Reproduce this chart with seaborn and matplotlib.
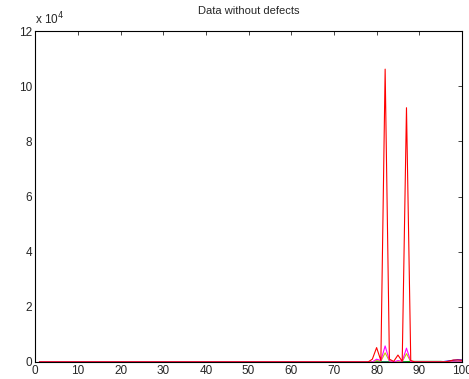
import numpy as np
import matplotlib
matplotlib.use("Agg")
import matplotlib.pyplot as plt
import seaborn as sns

sns.set_style("white")
plt.rcParams['font.family'] = ['Liberation Sans', 'DejaVu Sans']

x = np.arange(1, 101)

# values in units of 1e4, mostly zero until ~x=78
tail_x = [78, 79, 80, 81, 82, 83, 84, 85, 86, 87, 88, 89, 90, 91, 92, 93, 94, 95, 96, 97, 98, 99, 100]
red_tail = [0.0, 0.1, 0.52, 0.05, 10.62, 0.1, 0.02, 0.25, 0.02, 9.22, 0.05, 0.0, 0.0, 0.0, 0.0, 0.0, 0.0, 0.0, 0.0, 0.03, 0.07, 0.07, 0.06]
magenta_tail = [0.0, 0.0, 0.1, 0.05, 0.58, 0.05, 0.0, 0.05, 0.02, 0.5, 0.02, 0.0, 0.0, 0.0, 0.0, 0.0, 0.0, 0.0, 0.0, 0.0, 0.0, 0.0, 0.0]
yellow_tail = [0.0, 0.0, 0.05, 0.03, 0.33, 0.03, 0.0, 0.02, 0.01, 0.3, 0.01, 0.0, 0.0, 0.0, 0.0, 0.0, 0.0, 0.0, 0.0, 0.0, 0.0, 0.0, 0.0]
blue_tail = [0.0, 0.0, 0.0, 0.0, 0.0, 0.0, 0.0, 0.0, 0.0, 0.0, 0.0, 0.0, 0.0, 0.0, 0.0, 0.0, 0.0, 0.0, 0.02, 0.04, 0.06, 0.08, 0.07]
green_tail = [0.0, 0.0, 0.0, 0.0, 0.0, 0.0, 0.0, 0.0, 0.0, 0.01, 0.02, 0.02, 0.02, 0.02, 0.02, 0.02, 0.02, 0.02, 0.01, 0.0, 0.0, 0.0, 0.0]

def full(tail):
    return np.array([0.0] * (100 - len(tail)) + tail) * 1e4

series = [
    ("black", full([0.0] * len(tail_x))),
    ("#0000ff", full(blue_tail)),
    ("#00a000", full(green_tail)),
    ("#c8c800", full(yellow_tail)),
    ("#ff00ff", full(magenta_tail)),
    ("#ff0000", full(red_tail)),
]

fig, ax = plt.subplots(figsize=(4.69, 3.79), dpi=100)
fig.subplots_adjust(left=0.075, right=0.985, bottom=0.045, top=0.918)

for color, y in series:
    sns.lineplot(x=x, y=y, color=color, linewidth=0.8, ax=ax)

ax.set_xlim(0, 100)
ax.set_ylim(0, 12e4)
ax.set_xticks(np.arange(0, 101, 10))
ax.set_yticks(np.arange(0, 12.1e4, 2e4))
ax.set_yticklabels([str(v) for v in range(0, 13, 2)])
ax.tick_params(direction='in', length=3, labelsize=8.5, top=True, right=True, width=0.6, pad=2)
for s in ax.spines.values():
    s.set_color('black')
    s.set_linewidth(0.8)
ax.text(0, 1.01, r'x 10$^4$', transform=ax.transAxes, fontsize=8.5, ha='left', va='bottom')
ax.set_title('Data without defects', fontsize=8, pad=12)

fig.savefig("out.png", dpi=100)
